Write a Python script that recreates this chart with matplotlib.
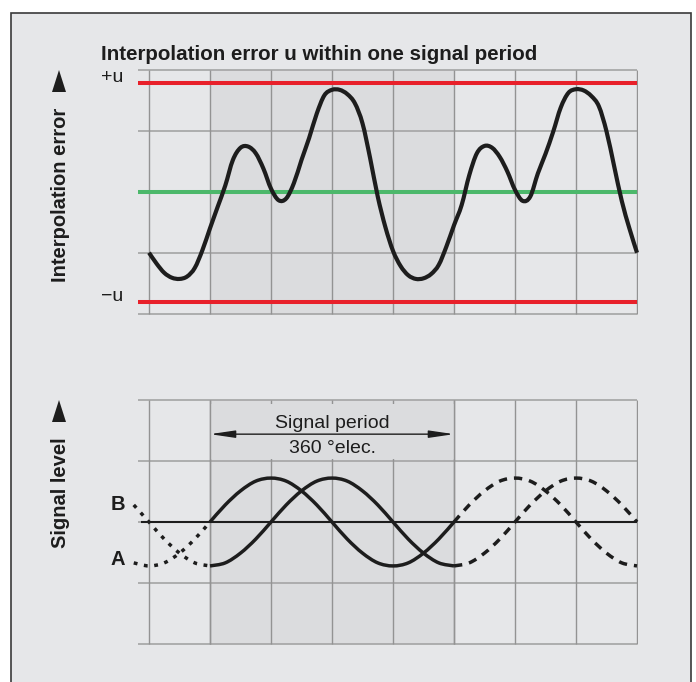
import matplotlib
matplotlib.use("Agg")
import matplotlib.pyplot as plt
from matplotlib.patches import Rectangle, Polygon, PathPatch
from matplotlib.path import Path
import numpy as np

plt.rcParams['font.family'] = ['Liberation Sans', 'DejaVu Sans']

# ---------------- data ----------------
title = "Interpolation error u within one signal period"
ylabel_top = "Interpolation error"
ylabel_bottom = "Signal level"
tol_labels = ["+u", "\u2212u"]
tol_values = [1.79, -1.81]
period_text = ["Signal period", "360 \u00b0elec."]
signal_names = ["B", "A"]

# interpolation error (grid units: one column = 1, signal period = 4 columns)
err_x = [i * 0.125 for i in range(65)]
err_y = [-1.00, -1.18, -1.33, -1.41, -1.43, -1.39, -1.25, -0.96,
         -0.60, -0.25, 0.10, 0.52, 0.72, 0.74, 0.63, 0.38,
         0.05, -0.14, -0.11, 0.14, 0.52, 0.88, 1.28, 1.58,
         1.67, 1.67, 1.60, 1.45, 1.12, 0.55, -0.08, -0.58,
         -0.97, -1.22, -1.37, -1.43, -1.42, -1.35, -1.20, -0.90,
         -0.55, -0.22, 0.27, 0.63, 0.75, 0.72, 0.57, 0.33,
         0.03, -0.15, -0.08, 0.30, 0.62, 0.98, 1.38, 1.62,
         1.68, 1.66, 1.57, 1.40, 0.99, 0.42, -0.15, -0.60,
         -1.00]

# signals A and B
sig_x = [-0.25 + i * 0.25 for i in range(34)]
sig_A = [-0.67, -0.72, -0.67, -0.51, -0.28, 0.00, 0.28, 0.51, 0.67, 0.72,
         0.67, 0.51, 0.28, 0.00, -0.28, -0.51, -0.67, -0.72, -0.67, -0.51,
         -0.28, 0.00, 0.28, 0.51, 0.67, 0.72, 0.67, 0.51, 0.28, 0.00,
         -0.28, -0.51, -0.67, -0.72]
sig_B = [0.28, 0.00, -0.28, -0.51, -0.67, -0.72, -0.67, -0.51, -0.28, 0.00,
         0.28, 0.51, 0.67, 0.72, 0.67, 0.51, 0.28, 0.00, -0.28, -0.51,
         -0.67, -0.72, -0.67, -0.51, -0.28, 0.00, 0.28, 0.51, 0.67, 0.72,
         0.67, 0.51, 0.28, 0.00]
period_start, period_end = 1, 5

# ---------------- styling ----------------
W, H = 696, 682
BG = "#e6e7e9"
SHADE = "#dbdcde"
GRID_H = "#a9a9a9"
GRID_V = "#939393"
INK = "#1d1d1d"
RED = "#e8202a"
GREEN = "#4cb86b"
PX = 61.0  # pixels per grid unit

fig = plt.figure(figsize=(W / 100, H / 100), dpi=100)
fig.patch.set_facecolor("white")
fig.add_artist(Rectangle((11 / W, -0.05), (691 - 11) / W, (H - 13) / H + 0.05,
                         transform=fig.transFigure, facecolor=BG,
                         edgecolor="#3a3a3a", linewidth=1.2, zorder=-10))

XL = (-0.18, 8.02)
YL = (-2.03, 2.03)


def add_axes_px(x0_px, zero_px):
    left = x0_px + XL[0] * PX
    right = x0_px + XL[1] * PX
    top = zero_px - YL[1] * PX
    bottom = zero_px - YL[0] * PX
    ax = fig.add_axes([left / W, 1 - bottom / H, (right - left) / W, (bottom - top) / H])
    ax.set_xlim(*XL)
    ax.set_ylim(*YL)
    ax.set_axis_off()
    ax.patch.set_alpha(0)
    return ax


def draw_grid(ax):
    ax.add_patch(Rectangle((period_start, -2), period_end - period_start, 4,
                           facecolor=SHADE, edgecolor="none", zorder=0))
    for yv in [-2, -1, 0, 1, 2]:
        ax.hlines(yv, XL[0], 8, color=GRID_H, lw=1.3, zorder=1)
    for xv in range(9):
        ax.vlines(xv, -2, 2, color=GRID_V, lw=1.0, zorder=1.2)


def smooth_curve(ax, xs, ys, **kw):
    """Draw a smooth curve through the given points (Catmull-Rom -> Bezier path)."""
    p = np.column_stack([xs, ys]).astype(float)
    n = len(p)
    verts = [p[0]]
    codes = [Path.MOVETO]
    for i in range(n - 1):
        p0 = p[i - 1] if i > 0 else p[i]
        p1 = p[i]
        p2 = p[i + 1]
        p3 = p[i + 2] if i + 2 < n else p[i + 1]
        verts += [p1 + (p2 - p0) / 6.0, p2 - (p3 - p1) / 6.0, p2]
        codes += [Path.CURVE4] * 3
    patch = PathPatch(Path(verts, codes), facecolor="none", clip_on=False, **kw)
    ax.add_patch(patch)
    return patch


# ---------------- top chart ----------------
ax1 = add_axes_px(149, 191.7)
draw_grid(ax1)
for v in tol_values:
    ax1.hlines(v, XL[0] - 0.01, 8, color=RED, lw=2.9, zorder=2)
ax1.hlines(0, XL[0], 8, color=GREEN, lw=2.9, zorder=2)
smooth_curve(ax1, err_x, err_y, edgecolor=INK, lw=3.0, joinstyle="round",
             capstyle="butt", zorder=3)

# ---------------- bottom chart ----------------
ax2 = add_axes_px(149, 522)
draw_grid(ax2)
# cover behind the period annotation
ax2.add_patch(Rectangle((period_start, 1.03), period_end - period_start, 0.9,
                        facecolor=SHADE, edgecolor="none", zorder=1.5))
ax2.vlines([period_start, period_end], -2, 2, color=GRID_V, lw=1.0, zorder=1.6)
ax2.hlines(0, -0.13, 8, color=INK, lw=1.5, zorder=2)

ax2.annotate("", xy=(period_start, 1.44), xytext=(period_end, 1.44),
             arrowprops=dict(arrowstyle="<|-|>,head_length=1.5,head_width=0.22",
                             mutation_scale=10, color=INK, lw=1.0,
                             shrinkA=0, shrinkB=0), zorder=3)
ax2.text(3, 1.61, period_text[0], ha="center", va="center", fontsize=14,
         color=INK, zorder=3)
ax2.text(3, 1.21, period_text[1], ha="center", va="center", fontsize=14,
         color=INK, zorder=3)

sx = np.array(sig_x)
for vals in (sig_A, sig_B):
    v = np.array(vals)
    m1 = sx <= period_start
    m2 = (sx >= period_start) & (sx <= period_end)
    m3 = sx >= period_end
    smooth_curve(ax2, sx[m1], v[m1], edgecolor=INK, lw=2.5,
                 linestyle=(0, (1.1, 1.9)), capstyle="butt", zorder=4)
    smooth_curve(ax2, sx[m2], v[m2], edgecolor=INK, lw=2.5,
                 joinstyle="round", capstyle="butt", zorder=4)
    smooth_curve(ax2, sx[m3], v[m3], edgecolor=INK, lw=2.5,
                 linestyle=(0, (2.4, 2.0)), capstyle="butt", zorder=4)

# ---------------- texts ----------------
fig.text(101 / W, 1 - 60 / H, title, fontsize=14.8, fontweight="bold",
         ha="left", va="baseline", color=INK)
fig.text(101.5 / W, 1 - 82 / H, tol_labels[0], fontsize=14, ha="left",
         va="baseline", color=INK)
fig.text(101 / W, 1 - 301 / H, tol_labels[1], fontsize=14, ha="left",
         va="baseline", color=INK)
fig.text(66.5 / W, 1 - 194.5 / H, ylabel_top, fontsize=14.5, fontweight="bold",
         rotation=90, rotation_mode="anchor", ha="center", va="baseline", color=INK)
fig.text(66.5 / W, 1 - 493 / H, ylabel_bottom, fontsize=14.5, fontweight="bold",
         rotation=90, rotation_mode="anchor", ha="center", va="baseline", color=INK)
fig.text(111 / W, 1 - 510 / H, signal_names[0], fontsize=14.5, fontweight="bold",
         ha="left", va="baseline", color=INK)
fig.text(110.5 / W, 1 - 565 / H, signal_names[1], fontsize=14.5, fontweight="bold",
         ha="left", va="baseline", color=INK)

# axis arrows (triangles)
for top_px in (70, 400):
    fig.add_artist(Polygon([(52 / W, 1 - (top_px + 22) / H),
                            (66 / W, 1 - (top_px + 22) / H),
                            (59 / W, 1 - top_px / H)], closed=True,
                           transform=fig.transFigure, facecolor=INK,
                           edgecolor="none"))

fig.savefig("out.png", dpi=100)
